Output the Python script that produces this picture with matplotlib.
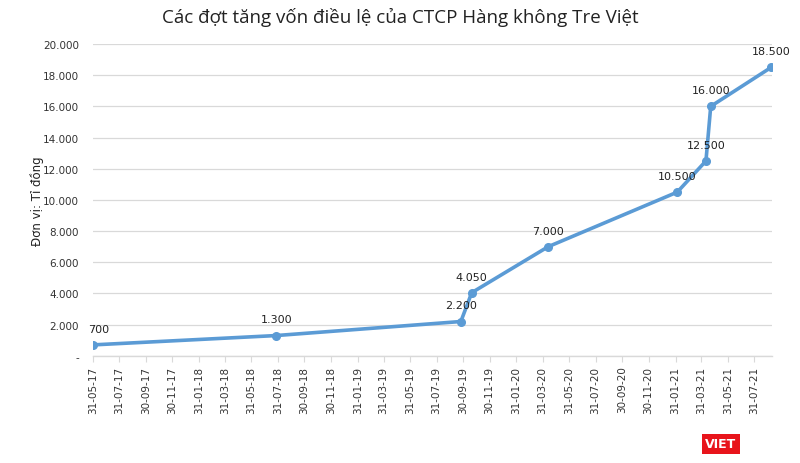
#!/usr/bin/env python3
# -*- coding: utf-8 -*-

import numpy as np
import pandas as pd
import matplotlib
matplotlib.use('Agg')
import matplotlib.pyplot as plt
import matplotlib.dates as mdates

# Charter capital raises (billion VND)
dates = ['2017-05-31', '2018-07-27', '2019-09-25', '2019-10-20', '2020-04-13',
         '2021-02-04', '2021-04-11', '2021-04-22', '2021-09-08']
values = [700, 1300, 2200, 4050, 7000, 10500, 12500, 16000, 18500]
labels = ['700', '1.300', '2.200', '4.050', '7.000', '10.500', '12.500', '16.000', '18.500']

yticks = [0, 2000, 4000, 6000, 8000, 10000, 12000, 14000, 16000, 18000, 20000]
ytick_labels = ['-', '2.000', '4.000', '6.000', '8.000', '10.000', '12.000',
                '14.000', '16.000', '18.000', '20.000']

x = pd.to_datetime(dates)
xticks = pd.date_range('2017-05-31', '2021-07-31', freq='2ME')

blue = '#5B9BD5'

fig = plt.figure(figsize=(8, 4.64), dpi=100)
ax = fig.add_axes([0.116, 0.231, 0.849, 0.672])

ax.plot(x, values, color=blue, lw=2.6, marker='o', ms=5.5, zorder=3,
        solid_joinstyle='round')

for xi, v, t in zip(x, values, labels):
    dx = 4 if t == '700' else 0
    ax.annotate(t, (xi, v), xytext=(dx, 8), textcoords='offset points',
                ha='center', va='bottom', fontsize=8, color='#222222')

ax.set_xlim(pd.Timestamp('2017-05-31'), pd.Timestamp('2021-09-10'))
ax.set_ylim(0, 20000)
ax.set_yticks(yticks)
ax.set_yticklabels(ytick_labels)
ax.set_xticks(xticks)
ax.set_xticklabels([d.strftime('%d-%m-%y') for d in xticks], rotation=90)

ax.grid(axis='y', color='#d9d9d9', lw=0.9)
ax.set_axisbelow(True)
for s in ['top', 'right', 'left']:
    ax.spines[s].set_visible(False)
ax.spines['bottom'].set_color('#d9d9d9')
ax.spines['bottom'].set_linewidth(1.0)
ax.tick_params(axis='y', length=0, labelsize=7.5, colors='#333333', pad=10)
ax.tick_params(axis='x', length=4, color='#d9d9d9', labelsize=7.5,
               colors='#333333', pad=3)

ax.set_ylabel('Đơn vị: Tỉ đồng', fontsize=8.5, color='#222222')
ax.yaxis.set_label_coords(-0.072, 0.5)

fig.text(0.5, 0.962, 'Các đợt tăng vốn điều lệ của CTCP Hàng không Tre Việt',
         ha='center', va='center', fontsize=13.5, family='Open Sans', color='#222222')

# logo
fig.text(0.901, 0.041, 'VIET', ha='center', va='center', fontsize=9,
         fontweight='bold', color='white',
         bbox=dict(boxstyle='square,pad=0.25', fc='#e8141b', ec='none'))

fig.savefig('out.png', dpi=100)
